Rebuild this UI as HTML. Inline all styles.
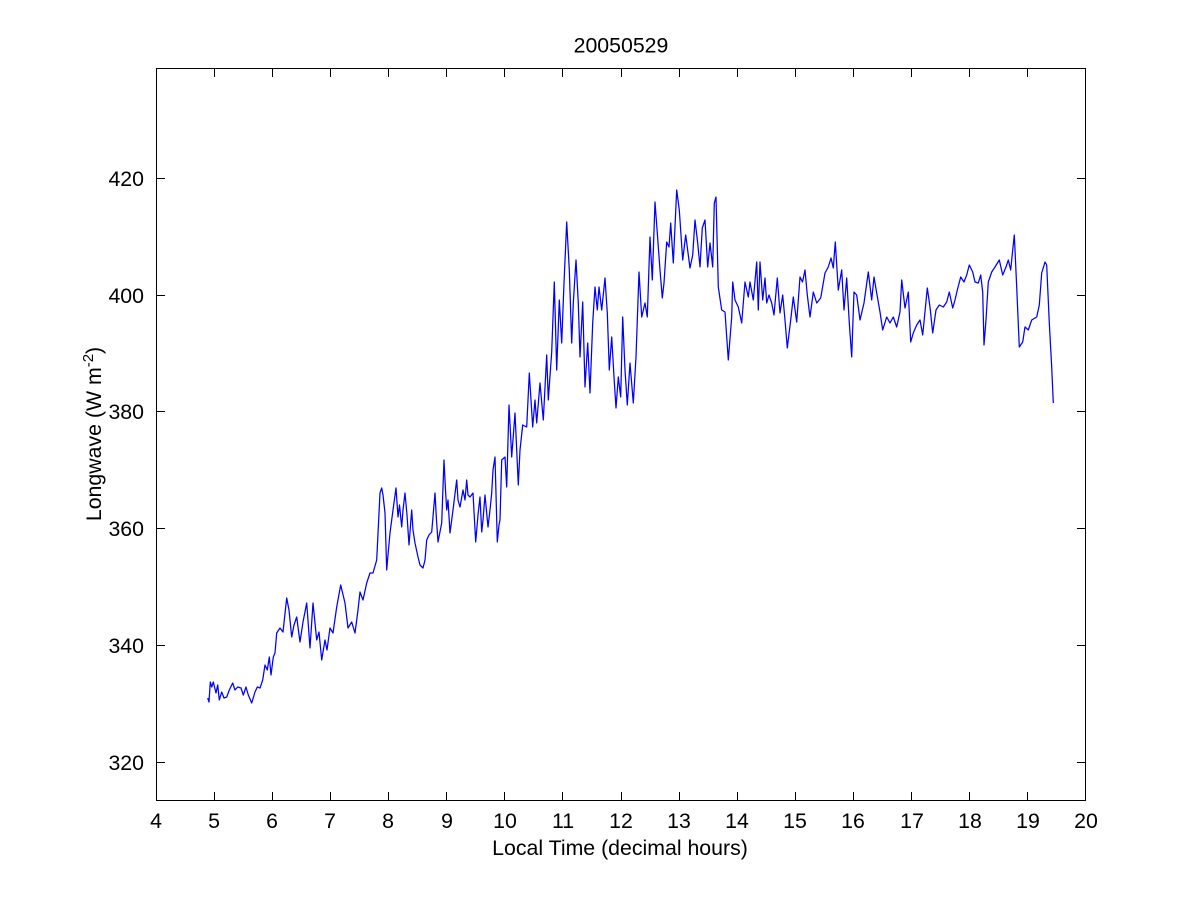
<!DOCTYPE html>
<html><head><meta charset="utf-8"><style>
html,body{margin:0;padding:0;background:#fff;}
svg{display:block;}
text{font-family:"Liberation Sans",Arial,sans-serif;fill:#000;}
</style></head><body>
<svg width="1200" height="900" viewBox="0 0 1200 900" xmlns="http://www.w3.org/2000/svg">
<rect width="1200" height="900" fill="#fff"/>
<g stroke="#000" stroke-width="1" fill="none" shape-rendering="crispEdges">
<rect x="156.5" y="68.5" width="929" height="732"/>
<path d="M156.5 801V792M214.5 801V792M272.5 801V792M330.5 801V792M388.5 801V792M446.5 801V792M504.5 801V792M562.5 801V792M621.5 801V792M679.5 801V792M737.5 801V792M795.5 801V792M853.5 801V792M911.5 801V792M969.5 801V792M1027.5 801V792M1085.5 801V792"/>
<path d="M156.5 68V77M214.5 68V77M272.5 68V77M330.5 68V77M388.5 68V77M446.5 68V77M504.5 68V77M562.5 68V77M621.5 68V77M679.5 68V77M737.5 68V77M795.5 68V77M853.5 68V77M911.5 68V77M969.5 68V77M1027.5 68V77M1085.5 68V77"/>
<path d="M156 762.5H165M156 645.5H165M156 528.5H165M156 411.5H165M156 295.5H165M156 178.5H165"/>
<path d="M1086 762.5H1077M1086 645.5H1077M1086 528.5H1077M1086 411.5H1077M1086 295.5H1077M1086 178.5H1077"/>
</g>
<g font-size="21.3" text-anchor="middle">
<text x="156" y="828">4</text><text x="214" y="828">5</text><text x="272" y="828">6</text><text x="330" y="828">7</text><text x="388" y="828">8</text><text x="447" y="828">9</text><text x="505" y="828">10</text><text x="563" y="828">11</text><text x="621" y="828">12</text><text x="679" y="828">13</text><text x="737" y="828">14</text><text x="795" y="828">15</text><text x="853" y="828">16</text><text x="912" y="828">17</text><text x="970" y="828">18</text><text x="1028" y="828">19</text><text x="1086" y="828">20</text>
</g>
<g font-size="21.3" text-anchor="end">
<text x="144" y="770">320</text><text x="144" y="653">340</text><text x="144" y="536">360</text><text x="144" y="419">380</text><text x="144" y="303">400</text><text x="144" y="186">420</text>
</g>
<text x="621" y="52.5" font-size="21.3" text-anchor="middle">20050529</text>
<text x="620" y="855" font-size="21.3" text-anchor="middle">Local Time (decimal hours)</text>
<text transform="translate(101,434) rotate(-90)" font-size="21.3" text-anchor="middle">Longwave (W m<tspan dy="-8" font-size="15">-2</tspan><tspan dy="8">)</tspan></text>
<polyline fill="none" stroke="#0000ff" stroke-width="1.25" stroke-linejoin="round" points="207.7,698 209,702 210.3,682 211.7,687 213.3,682 216,693 217.7,685 219.3,700 221.7,692 224,698 226.7,697 229.3,690 232.7,683 235,690 237.7,687 241,688 243.3,695 246,687 248.3,695 251.7,703 255,692 257.3,687 260,688 262.7,680 265,665 267.3,670 269.3,657 271,675 273.3,657 275,653 276.7,633 280,628 283,632 286.7,598 289,610 291.7,637 294,625 296.7,617 300,642 303,622 306.7,603 310,648 313,603 316.7,640 319,632 321.7,660 325,640 327,650 330,628 333,633 336.7,607 340.7,585 345,603 348,628 351.7,622 355,633 358,610 360,592 363,600 366.7,583 370,573 373,573 376.7,560 380,493 381.7,488 383,495 385,513 386.7,570 388,555 390,533 393,510 396,488 398,517 399.5,505 401.7,527 403,510 405,493 407,515 409,545 411.7,510 413,530 415,543 418,557 420,565 423,568 425,560 426.7,540 429,535 431.7,532 435,493 436.5,520 438,542 441.7,523 444,460 445.5,490 446.7,510 448,500 450,533 453,510 456.7,480 458,500 460,507 463,490 465,500 466.7,480 468,495 470,497 473,493 475.7,542 478,515 480,497 481.7,532 483,520 485,495 488,527 490,510 491.7,493 493,470 495,457 497.3,542 499,525 500,520 501.7,460 505,457 506.7,487 509,405 511.7,457 515,413 518.3,485 520,450 522.7,425 526.7,427 529.3,373 532.7,427 535,400 536.7,423 540,383 543.3,420 546.7,355 548.3,400 551.7,352 554.3,282 556.7,370 559.3,300 561.7,343 564,283 566.7,222 569.3,270 571.7,343 573.3,303 576,260 578.3,303 580,357 582.7,302 585,387 587.7,343 590,393 592.7,323 595,287 597.3,310 599,287 601.7,310 605,278 607.3,313 609.3,370 611.7,337 614,377 616,408 618.3,377 620.7,397 622.7,317 625,370 627.3,405 630,363 633.3,403 636,357 639,272 641.7,317 645,303 647.3,317 650,237 652.3,280 655,202 657.3,233 660,270 662.3,298 664,283 666.7,242 669,247 670.7,223 673.3,263 676.7,190 679.3,210 682.7,260 685.7,235 688.3,255 690,268 692.7,255 695,220 697.7,243 700,267 702.3,228 705,220 707.7,267 710,243 712.7,267 714.3,203 716,197 718.3,287 721.7,310 725,312 728.3,360 731.7,317 732.7,282 735,300 738.3,307 741.7,323 745,282 748.3,297 750,282 753.3,300 756.7,262 758.3,310 760,262 762.7,300 765,278 766.7,303 769,295 771.7,303 774,315 777.3,278 780,313 782.7,295 785,320 787.3,348 790.7,320 793.3,297 796.7,322 800,277 802.5,282 805,270 807.3,295 810,317 813.3,292 816.7,303 820.7,298 825,273 828.3,267 831,258 833.3,268 835.3,242 838.3,290 841.7,270 844,310 846.7,278 849.3,323 851.7,357 854,292 856.7,295 860,320 864,303 868.3,272 871.7,300 874,277 876.7,293 880,312 882.7,330 886.7,317 890,323 893.3,317 896.7,327 900,312 901.7,280 905,308 908.3,292 910.7,342 913.3,333 916.7,325 920,320 922.7,335 927.3,288 930,307 932.7,333 936,310 939.3,305 943.3,307 946.7,302 949.3,292 952.7,308 955,300 957.3,290 960.7,277 964,282 966.7,275 969.3,265 972.7,272 975,282 978.3,283 980.7,275 982.7,292 984,345 986,320 988.3,282 991.7,272 995,267 999.3,260 1002.7,275 1006,267 1008.3,260 1010.7,270 1012.7,250 1014.3,235 1016.7,287 1019.3,347 1022.7,342 1025,327 1028.3,330 1031.7,320 1036.7,317 1039.3,305 1041.7,273 1045,262 1046.7,265 1049.3,323 1051.7,367 1053.3,403"/>
</svg>
</body></html>
